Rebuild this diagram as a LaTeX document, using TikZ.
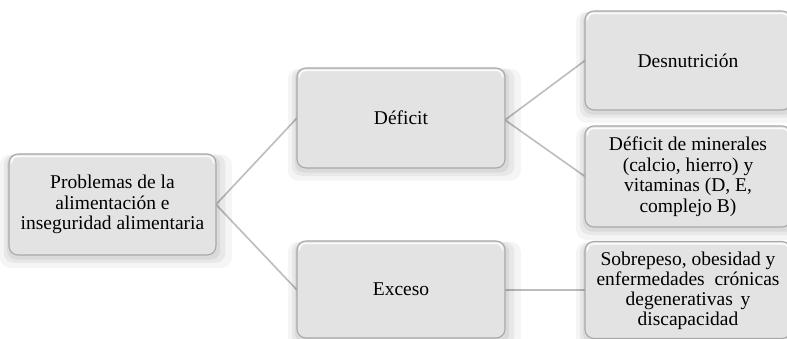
\documentclass[tikz,border=0pt]{standalone}
\usepackage{fontspec}
\setmainfont{Liberation Serif}
\usetikzlibrary{shadows}
\definecolor{boxfill}{HTML}{E3E3E3}
\definecolor{boxline}{HTML}{A8A8A8}
\definecolor{conn}{HTML}{BDBDBD}
\begin{document}
\begin{tikzpicture}[x=1pt,y=1pt,
  boxst/.style={rectangle, rounded corners=9pt, draw=boxline, line width=1.1pt, fill=boxfill,
    align=center, font=\fontsize{19.5}{20.5}\selectfont, inner sep=0pt,
    general shadow={fill=black, opacity=0.04, shadow scale=1.12, shadow xshift=3pt, shadow yshift=-6pt},
    general shadow={fill=black, opacity=0.05, shadow scale=1.07, shadow xshift=2pt, shadow yshift=-4pt},
    general shadow={fill=black, opacity=0.06, shadow scale=1.03, shadow xshift=1pt, shadow yshift=-3pt}},
  txtst/.style={align=center, font=\fontsize{19.5}{20}\selectfont, inner sep=0pt},
  connst/.style={draw=conn, line width=1.6pt}]
\useasboundingbox (0,0) rectangle (787,339);
\fill[white] (0,0) rectangle (787,339);
% connectors
\coordinate (rootE) at (216,134.5);
\coordinate (defW) at (297,221);
\coordinate (defE) at (505,219);
\coordinate (excW) at (297,49);
\coordinate (excE) at (505,49);
\coordinate (desW) at (585,278.5);
\coordinate (minW) at (585,162.5);
\coordinate (sobW) at (585,49);
\draw[connst] (rootE) -- (defW);
\draw[connst] (rootE) -- (excW);
\draw[connst] (defE) -- (desW);
\draw[connst] (defE) -- (minW);
\draw[connst] (excE) -- (sobW);
% boxes
\node[boxst, minimum width=207pt, minimum height=101pt] (root) at (112.5,134.5) {Problemas de la\\alimentación e\\inseguridad alimentaria};
\node[boxst, minimum width=208pt, minimum height=100pt] (def) at (401,221) {Déficit};
\node[boxst, minimum width=208pt, minimum height=97pt] (exc) at (401,49.5) {Exceso};
\node[boxst, minimum width=206pt, minimum height=99pt] (des) at (688,278.5) {Desnutrición};
\node[boxst, minimum width=206pt, minimum height=101pt] (min) at (688,162.5) {Déficit de minerales\\(calcio, hierro) y\\vitaminas (D, E,\\complejo B)};
\node[boxst, minimum width=206pt, minimum height=97pt] (sob) at (688,49) {};
\node[txtst] (sobt) at (688,48) {Sobrepeso, obesidad y\\enfermedades\hspace{0.5em}crónicas\\degenerativas\hspace{0.4em}y\\discapacidad};
% highlights
\foreach \n in {root,def,exc,des,min,sob}{
  \draw[white, line width=1.4pt, opacity=0.9, rounded corners=6pt]
    ([xshift=3pt,yshift=-10pt]\n.north west) -- ([xshift=3pt,yshift=-3pt]\n.north west) -- ([xshift=-3pt,yshift=-3pt]\n.north east) -- ([xshift=-3pt,yshift=-10pt]\n.north east);
}
\end{tikzpicture}
\end{document}
